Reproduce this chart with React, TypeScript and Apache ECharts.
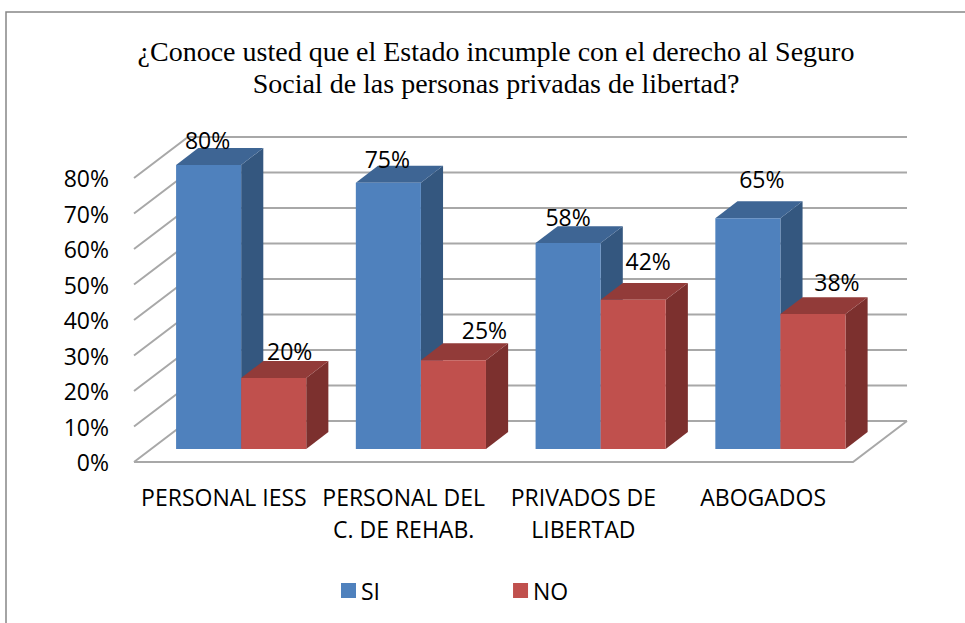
import React, { useEffect, useRef } from 'react';
import * as echarts from 'echarts';

const TITLE_LINES = [
  '¿Conoce usted que el Estado incumple con el derecho al Seguro',
  'Social de las personas privadas de libertad?',
];
const CATEGORIES = ['PERSONAL IESS', 'PERSONAL DEL\nC. DE REHAB.', 'PRIVADOS DE\nLIBERTAD', 'ABOGADOS'];
const SERIES_NAMES = ['SI', 'NO'];
const SI_VALUES = [80, 75, 58, 65];
const NO_VALUES = [20, 25, 42, 38];
const Y_MIN = 0;
const Y_MAX = 80;
const Y_INTERVAL = 10;
const Y_TICKS = [0, 10, 20, 30, 40, 50, 60, 70, 80];

// styling / projection
const WALL_D = [54, -41];
const BAR_F0 = 0.32;
const BAR_F1 = 0.73;
const BAR_FRAC = 0.362;
const SI_COLORS = { front: '#4F81BD', top: '#3E6594', side: '#34577F' };
const NO_COLORS = { front: '#C0504D', top: '#923B39', side: '#7C302E' };
const GRID_COLOR = '#A8A8A8';
const SANS = '"Open Sans", "Liberation Sans", sans-serif';
const FS = 23;
const LABEL_OFFSETS_SI = [[-1, -8], [-1, -7], [0, -9], [14, -22]];
const LABEL_OFFSETS_NO = [[16, -10], [31, -13], [15, -22], [24, -15]];

function makeBarRender(side: number, colors: any, offsets: number[][]) {
  return (params: any, api: any) => {
    const cat = api.value(0);
    const v = api.value(1);
    const base = api.coord([cat, 0]);
    const top = api.coord([cat, v]);
    const band = api.size([1, 0])[0];
    const bw = band * BAR_FRAC;
    const fx = WALL_D[0] * BAR_F0;
    const fy = WALL_D[1] * BAR_F0;
    const dx = WALL_D[0] * (BAR_F1 - BAR_F0);
    const dy = WALL_D[1] * (BAR_F1 - BAR_F0);
    const x0 = base[0] + (side === 0 ? -bw : 0) + fx;
    const x1 = x0 + bw;
    const yb = base[1] + fy;
    const yt = top[1] + fy;
    const off = offsets[params.dataIndex] || [0, 0];
    return {
      type: 'group',
      children: [
        {
          type: 'polygon',
          shape: { points: [[x1, yt], [x1 + dx, yt + dy], [x1 + dx, yb + dy], [x1, yb]] },
          style: { fill: colors.side },
        },
        {
          type: 'polygon',
          shape: { points: [[x0, yt], [x1, yt], [x1 + dx, yt + dy], [x0 + dx, yt + dy]] },
          style: { fill: colors.top },
        },
        {
          type: 'rect',
          shape: { x: x0, y: yt, width: bw, height: yb - yt },
          style: { fill: colors.front },
        },
        {
          type: 'text',
          style: {
            text: v + '%',
            x: (x0 + x1) / 2 + off[0],
            y: yt + dy + off[1],
            fill: '#000',
            fontSize: FS,
            fontFamily: SANS,
            align: 'center',
            verticalAlign: 'middle',
          },
        },
      ],
    };
  };
}

function gridRender(params: any, api: any) {
  const v = api.value(1);
  const band = api.size([1, 0])[0];
  const l = api.coord([0, v]);
  const r = api.coord([CATEGORIES.length - 1, v]);
  const xl = l[0] - band / 2;
  const xr = r[0] + band / 2;
  const y = l[1];
  const style = { stroke: GRID_COLOR, lineWidth: 2, fill: 'none' };
  const children: any[] = [
    {
      type: 'polyline',
      shape: { points: [[xl, y], [xl + WALL_D[0], y + WALL_D[1]], [xr + WALL_D[0], y + WALL_D[1]]] },
      style,
    },
  ];
  if (v === Y_MIN) {
    children.push({
      type: 'polyline',
      shape: { points: [[xl, y], [xr, y], [xr + WALL_D[0], y + WALL_D[1]]] },
      style,
    });
  }
  return { type: 'group', children };
}

export default function App() {
  const ref = useRef<HTMLDivElement>(null);
  useEffect(() => {
    const chart = echarts.init(ref.current!, null, { renderer: 'svg' });
    chart.setOption({
      animation: false,
      backgroundColor: '#fff',
      title: {
        text: TITLE_LINES.join('\n'),
        left: 496,
        top: 35,
        textAlign: 'center',
        padding: 0,
        textStyle: {
          fontFamily: '"Liberation Serif", "Times New Roman", serif',
          fontSize: 28,
          lineHeight: 32,
          fontWeight: 'normal',
          color: '#000',
        },
      },
      graphic: [
        {
          type: 'rect',
          silent: true,
          z: -10,
          shape: { x: 6, y: 12, width: 1200, height: 900 },
          style: { fill: 'none', stroke: '#868686', lineWidth: 1.5 },
        },
      ],
      legend: {
        data: SERIES_NAMES,
        left: 341,
        top: 579,
        padding: 0,
        icon: 'rect',
        itemWidth: 15,
        itemHeight: 15,
        itemGap: 133,
        textStyle: { fontFamily: SANS, fontSize: FS, color: '#000' },
      },
      grid: { left: 134, right: 112, top: 178, bottom: 161 },
      xAxis: {
        type: 'category',
        data: CATEGORIES,
        axisLine: { show: false },
        axisTick: { show: false },
        splitLine: { show: false },
        axisLabel: {
          interval: 0,
          margin: 19,
          fontFamily: SANS,
          fontSize: FS,
          lineHeight: 32,
          color: '#000',
        },
      },
      yAxis: {
        type: 'value',
        min: Y_MIN,
        max: Y_MAX,
        interval: Y_INTERVAL,
        axisLine: { show: false },
        axisTick: { show: false },
        splitLine: { show: false },
        axisLabel: {
          formatter: '{value}%',
          margin: 25,
          fontFamily: SANS,
          fontSize: FS,
          color: '#000',
        },
      },
      series: [
        {
          name: 'grid',
          type: 'custom',
          silent: true,
          renderItem: gridRender,
          encode: { x: 0, y: 1 },
          data: Y_TICKS.map((v) => [0, v]),
        },
        {
          name: SERIES_NAMES[0],
          type: 'custom',
          renderItem: makeBarRender(0, SI_COLORS, LABEL_OFFSETS_SI),
          encode: { x: 0, y: 1 },
          itemStyle: { color: SI_COLORS.front },
          data: SI_VALUES.map((v, i) => [i, v]),
        },
        {
          name: SERIES_NAMES[1],
          type: 'custom',
          renderItem: makeBarRender(1, NO_COLORS, LABEL_OFFSETS_NO),
          encode: { x: 0, y: 1 },
          itemStyle: { color: NO_COLORS.front },
          data: NO_VALUES.map((v, i) => [i, v]),
        },
      ],
    });
    return () => chart.dispose();
  }, []);
  return (
    <div
      ref={ref}
      style={{ position: 'fixed', left: 0, top: 0, width: 965, height: 623, background: '#fff' }}
    />
  );
}
